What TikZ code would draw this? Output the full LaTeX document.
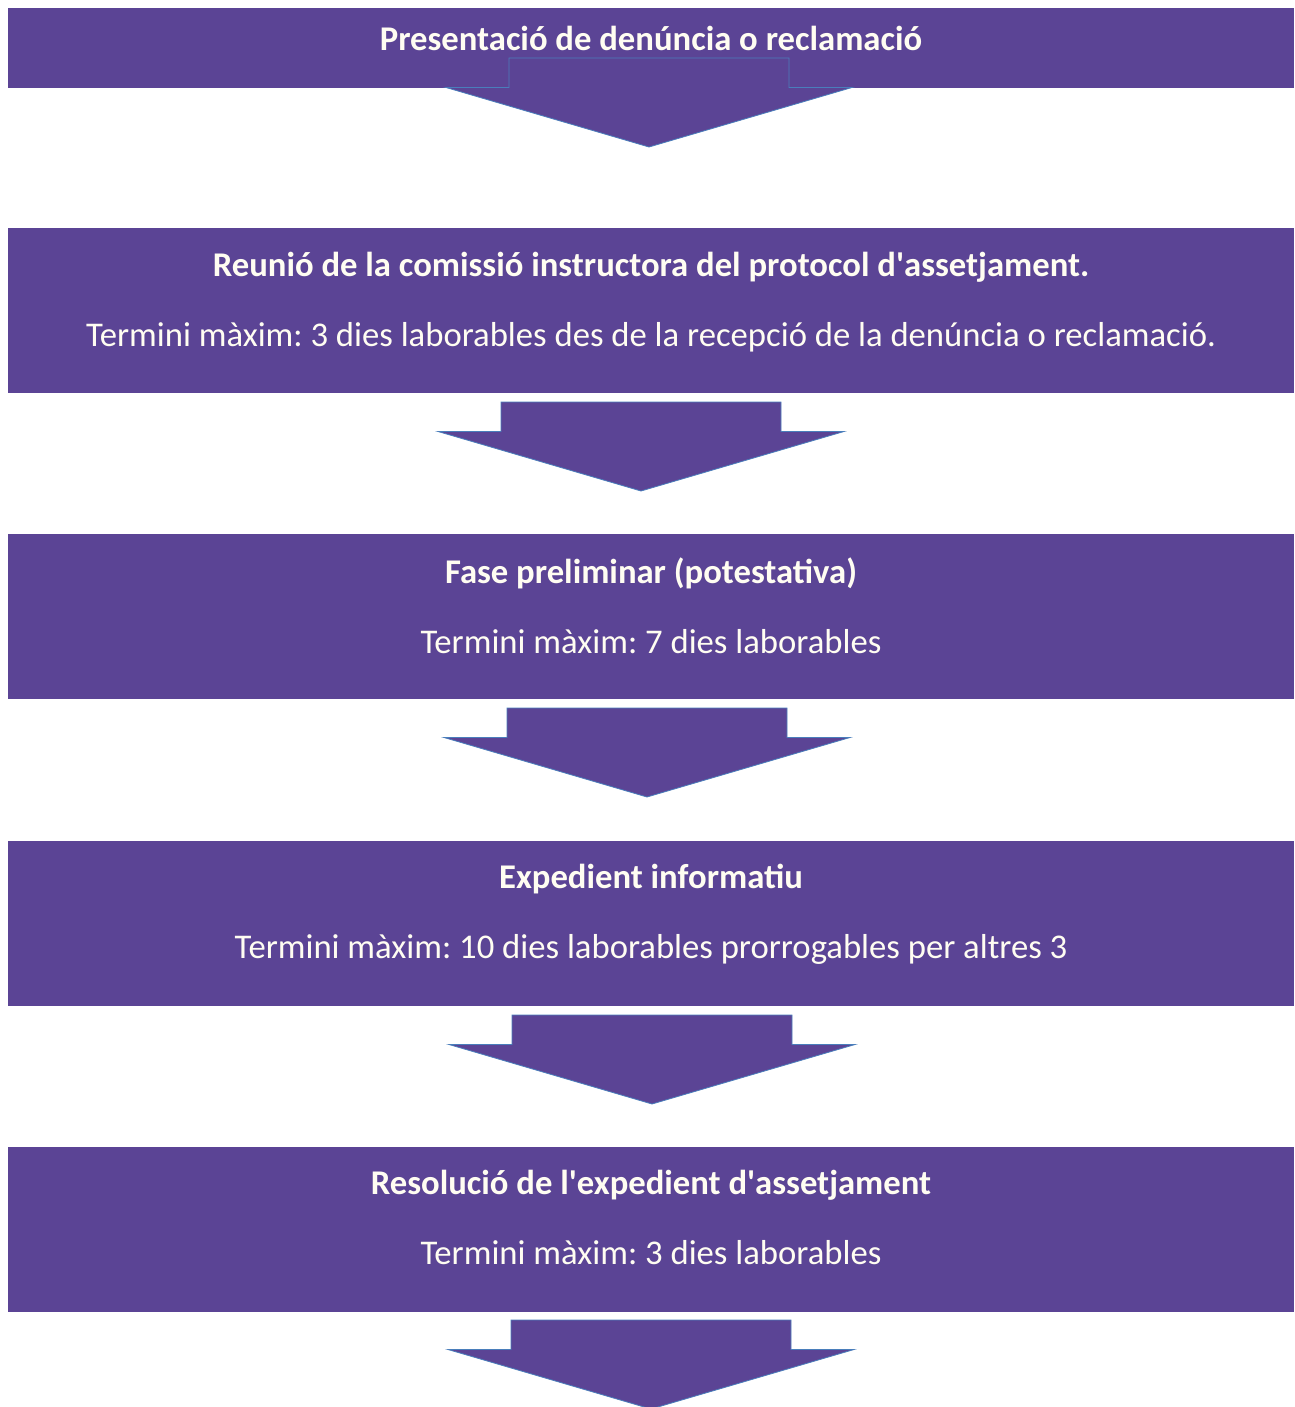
\documentclass[tikz,border=0pt]{standalone}
\usepackage{fontspec}
\setmainfont{Carlito}
\usepackage{tikz}
\usetikzlibrary{positioning}
\frenchspacing
\definecolor{violeta}{HTML}{5B4495}
\definecolor{vora}{HTML}{4A7EBB}
\definecolor{lletra}{HTML}{FFFDF2}

\tikzset{
  fase/.style={fill=violeta, text=lletra, align=center, inner sep=0pt,
    minimum width=964.5pt, font=\fontsize{26}{31}\selectfont},
  fletxa/.style={fill=violeta, draw=vora, line width=0.6pt, line join=miter}
}
% block arrow: centre x, top of stem (pixels)
\newcommand{\blockarrow}[2]{%
  \draw[fletxa] (#1-140,#2) -- (#1+140,#2) -- (#1+140,#2+29.5) -- (#1+203,#2+29.5)
    -- (#1,#2+89) -- (#1-203,#2+29.5) -- (#1-140,#2+29.5) -- cycle;}

\begin{document}
\begin{tikzpicture}[x=0.75pt, y=-0.75pt]
\useasboundingbox (0,0) rectangle (1295,1407);
\node[fase, minimum height=60pt, text depth=14.5pt] (denuncia) at (651,48) {\textbf{Presentació de denúncia o reclamació}};
\node[fase, minimum height=123.75pt, text depth=17pt] (reunio) at (651,310.5) {\textbf{Reunió de la comissió instructora del protocol d\textquotesingle assetjament.}\\[21.5pt]Termini màxim: 3 dies laborables des de la recepció de la denúncia o reclamació.};
\node[fase, minimum height=123.75pt, text depth=17pt] (preliminar) at (651,616.5) {\textbf{Fase preliminar (potestativa)}\\[21.5pt]Termini màxim: 7 dies laborables};
\node[fase, minimum height=123.75pt, text depth=17pt] (expedient) at (651,923) {\textbf{Expedient informatiu}\\[21.5pt]Termini màxim: 10 dies laborables prorrogables per altres 3};
\node[fase, minimum height=123.75pt, text depth=17pt] (resolucio) at (651,1229) {\textbf{Resolució de l\textquotesingle expedient d\textquotesingle assetjament}\\[21.5pt]Termini màxim: 3 dies laborables};
\blockarrow{649}{58}
\blockarrow{641}{402}
\blockarrow{647}{708}
\blockarrow{652}{1015}
\blockarrow{651}{1320}
\end{tikzpicture}
\end{document}
